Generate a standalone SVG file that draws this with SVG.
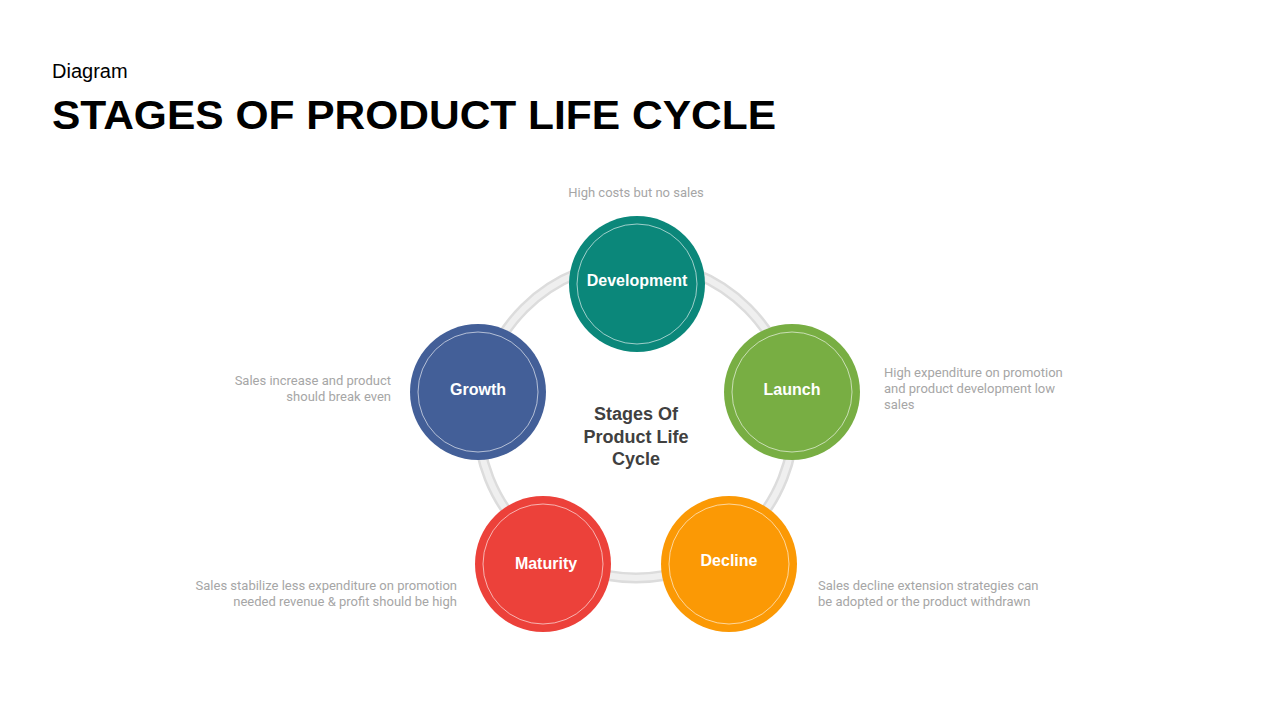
<svg xmlns="http://www.w3.org/2000/svg" width="1280" height="720" viewBox="0 0 1280 720">
<style>
.title{font-family:"Liberation Sans",Arial,sans-serif;font-weight:bold;font-size:40px;fill:#000}
.sub{font-family:"Liberation Sans",Arial,sans-serif;font-size:20px;fill:#000}
.lbl{font-family:"Liberation Sans",Arial,sans-serif;font-weight:bold;font-size:16px;fill:#fff;text-anchor:middle}
.ctr{font-family:"Liberation Sans",Arial,sans-serif;font-weight:bold;font-size:18px;fill:#404040;text-anchor:middle}
.desc{font-family:Roboto,"Liberation Sans",sans-serif;font-size:13px;fill:#a6a6a6}
.inner{fill:none;stroke:#fff;stroke-opacity:0.6;stroke-width:1}
</style>
<rect width="1280" height="720" fill="#fff"/>
<text class="sub" x="52" y="78">Diagram</text>
<text class="title" x="52" y="129" textLength="724" lengthAdjust="spacingAndGlyphs">STAGES OF PRODUCT LIFE CYCLE</text>
<g id="connectors">
<circle cx="636" cy="420" r="158" fill="none" stroke="#dcdcdc" stroke-width="11"/>
<circle cx="636" cy="420" r="158" fill="none" stroke="#efefef" stroke-width="6"/>
</g>
<g id="center"><text class="ctr" x="636" y="420">Stages Of</text><text class="ctr" x="636" y="443">Product Life</text><text class="ctr" x="636" y="465">Cycle</text></g>
<g id="development">
<circle cx="637" cy="284" r="68" fill="#0b877a"/>
<circle class="inner" cx="637" cy="284" r="60"/>
<text class="lbl" x="637" y="286">Development</text>
<text class="desc" x="636" y="197" text-anchor="middle">High costs but no sales</text>
</g>
<g id="launch">
<circle cx="792" cy="392" r="68" fill="#78ae43"/>
<circle class="inner" cx="792" cy="392" r="60"/>
<text class="lbl" x="792" y="395">Launch</text>
<text class="desc" x="884" y="377">High expenditure on promotion</text>
<text class="desc" x="884" y="393">and product development  low</text>
<text class="desc" x="884" y="409">sales</text>
</g>
<g id="growth">
<circle cx="478" cy="392" r="68" fill="#435f98"/>
<circle class="inner" cx="478" cy="392" r="60"/>
<text class="lbl" x="478" y="395">Growth</text>
<text class="desc" x="391" y="385" text-anchor="end">Sales increase and product</text>
<text class="desc" x="391" y="401" text-anchor="end">should break even</text>
</g>
<g id="maturity">
<circle cx="543" cy="564" r="68" fill="#ec413a"/>
<circle class="inner" cx="543" cy="564" r="60"/>
<text class="lbl" x="546" y="569">Maturity</text>
<text class="desc" x="457" y="590" text-anchor="end">Sales stabilize less expenditure  on promotion</text>
<text class="desc" x="457" y="606" text-anchor="end">needed  revenue  &amp; profit should be high</text>
</g>
<g id="decline">
<circle cx="729" cy="564" r="68" fill="#fb9905"/>
<circle class="inner" cx="729" cy="564" r="60"/>
<text class="lbl" x="729" y="566">Decline</text>
<text class="desc" x="818" y="590">Sales decline extension strategies can</text>
<text class="desc" x="818" y="606">be adopted  or the product withdrawn</text>
</g>
</svg>
